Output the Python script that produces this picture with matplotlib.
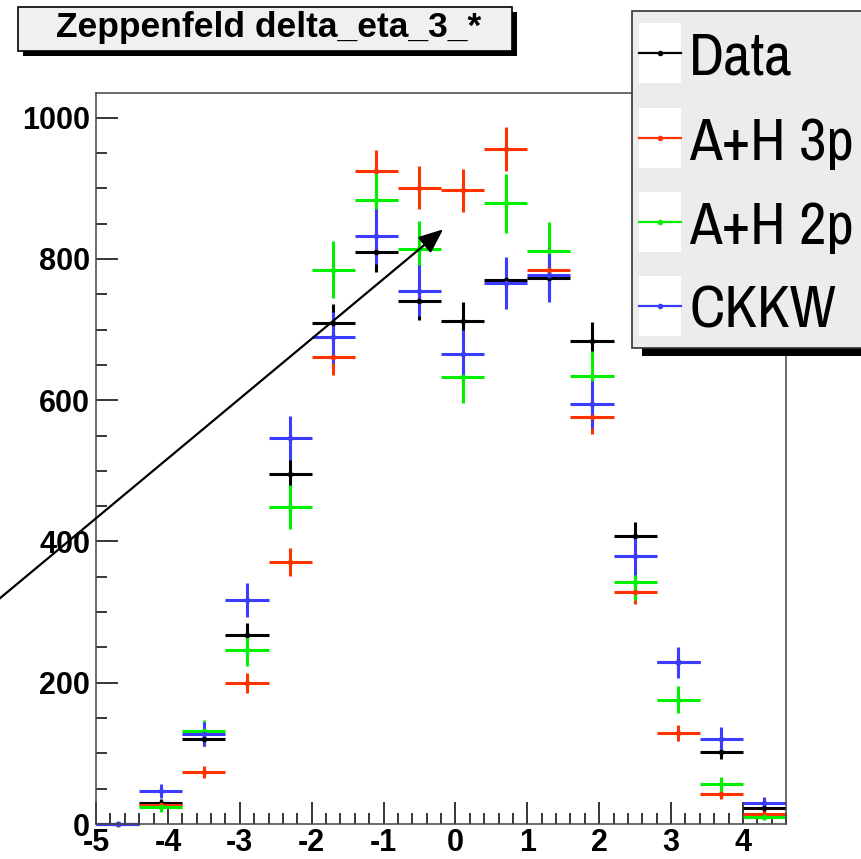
import matplotlib
matplotlib.use('Agg')
import matplotlib.pyplot as plt
from matplotlib.patches import Rectangle
from matplotlib.lines import Line2D
from matplotlib.ticker import MultipleLocator

plt.rcParams['axes.unicode_minus'] = False

# bins of delta_eta (width 0.6, from -5 to 4.6)
bin_width = 0.6
centers = [-4.7, -4.1, -3.5, -2.9, -2.3, -1.7, -1.1, -0.5,
           0.1, 0.7, 1.3, 1.9, 2.5, 3.1, 3.7, 4.3]

data = [0, 30, 121, 268, 496, 710, 810, 741, 712, 770, 773, 684, 408, 230, 102, 22]
data_err = [0, 5.5, 11, 16, 22, 26.6, 28.5, 27.2, 26.7, 27.7, 27.8, 26.2, 20.2, 15.2, 10.1, 4.7]

ah3p = [0, 27, 74, 200, 371, 661, 924, 901, 897, 956, 785, 576, 329, 129, 42, 14]
ah3p_err = [0, 5.2, 8.6, 14.1, 19.3, 25.7, 30.4, 30, 30, 30.9, 28, 24, 18.1, 11.4, 6.5, 3.8]

ah2p = [0, 24, 131, 246, 449, 785, 884, 814, 633, 879, 812, 634, 343, 176, 56, 10]
ah2p_err = [0, 7, 16, 22, 31, 40, 42, 40, 37, 42, 40, 35, 26, 19, 10.6, 4.4]

ckkw = [0, 47, 127, 317, 547, 689, 832, 755, 665, 766, 777, 594, 380, 229, 121, 30]
ckkw_err = [0, 10, 17, 24, 31, 36, 39, 36, 35, 37, 38, 33, 27, 22, 16, 8]

labels = ['Data', 'A+H 3p', 'A+H 2p', 'CKKW']
colors = ['black', '#ff3300', '#00f000', '#3c3cff']
title = 'Zeppenfeld delta_eta_3_*'

W, H = 861, 859
fig = plt.figure(figsize=(W / 100, H / 100), dpi=100)
fig.patch.set_facecolor('white')


def fx(px):
    return px / W


def fy(py):
    return 1 - py / H


ax = fig.add_axes([fx(96), fy(824), fx(786) - fx(96), fy(93) - fy(824)])
ax.set_xlim(-5, 4.6)
ax.set_ylim(0, 1035)

series = [(data, data_err), (ah3p, ah3p_err), (ah2p, ah2p_err), (ckkw, ckkw_err)]
for (vals, errs), c in zip(series, colors):
    eb = ax.errorbar(centers, vals, xerr=bin_width / 2, yerr=errs, fmt='o', ms=4,
                     color=c, ecolor=c, elinewidth=2.2, capsize=0, mew=0)
    for art in eb.get_children():
        art.set_clip_on(False)

ax.xaxis.set_major_locator(MultipleLocator(1))
ax.xaxis.set_minor_locator(MultipleLocator(0.2))
ax.yaxis.set_major_locator(MultipleLocator(200))
ax.yaxis.set_minor_locator(MultipleLocator(50))
ax.tick_params(which='both', direction='in', top=False, right=False, width=1.1, color='black')
ax.tick_params(which='major', length=15.8)
ax.tick_params(which='minor', length=8)
ax.tick_params(axis='x', pad=3)
ax.tick_params(axis='y', pad=4.3)
for lab in ax.get_xticklabels() + ax.get_yticklabels():
    lab.set_fontfamily('Liberation Sans')
    lab.set_fontweight('bold')
    lab.set_fontsize(22)
for sp in ax.spines.values():
    sp.set_color('#444444')
    sp.set_linewidth(1.1)

# arrow coming in from the left edge
ax.annotate('', xy=(-0.17, 842), xytext=(-6.45, 310),
            arrowprops=dict(arrowstyle='-|>,head_length=0.6,head_width=0.25',
                            mutation_scale=25, color='black', lw=1.6,
                            shrinkA=0, shrinkB=0),
            annotation_clip=False)

# title box with shadow
fig.add_artist(Rectangle((fx(23), fy(56)), fx(517) - fx(23), fy(12) - fy(56),
                         transform=fig.transFigure, facecolor='black', edgecolor='none', zorder=5))
fig.add_artist(Rectangle((fx(18), fy(51)), fx(512) - fx(18), fy(7) - fy(51),
                         transform=fig.transFigure, facecolor='#f0f0f0', edgecolor='black',
                         linewidth=1.2, zorder=6))
fig.text(fx(269), fy(28), title, ha='center', va='center', fontsize=25.5,
         fontweight='bold', family=['Liberation Sans', 'DejaVu Sans'], zorder=7)

# legend box with shadow
fig.add_artist(Rectangle((fx(642), fy(356)), fx(880) - fx(642), fy(19) - fy(356),
                         transform=fig.transFigure, facecolor='black', edgecolor='none', zorder=5))
fig.add_artist(Rectangle((fx(632), fy(348)), fx(870) - fx(632), fy(11) - fy(348),
                         transform=fig.transFigure, facecolor='#ececec', edgecolor='#333333',
                         linewidth=1.2, zorder=6))
row_y = [53, 138, 222, 306]
for lab, c, yy in zip(labels, colors, row_y):
    fig.add_artist(Rectangle((fx(639), fy(yy + 30)), fx(681) - fx(639), fy(yy - 30) - fy(yy + 30),
                             transform=fig.transFigure, facecolor='white', edgecolor='none', zorder=7))
    fig.add_artist(Line2D([fx(639), fx(681)], [fy(yy), fy(yy)], transform=fig.transFigure,
                          color=c, lw=1.6, zorder=8))
    fig.add_artist(Line2D([fx(660)], [fy(yy)], transform=fig.transFigure, color=c,
                          marker='o', ms=4, mew=0, zorder=9))
    fig.text(fx(689), fy(yy + 21.5), lab, ha='left', va='baseline', fontsize=43,
             family=['Archivo Narrow', 'Liberation Sans'], zorder=9)

fig.savefig('out.png', dpi=100)
